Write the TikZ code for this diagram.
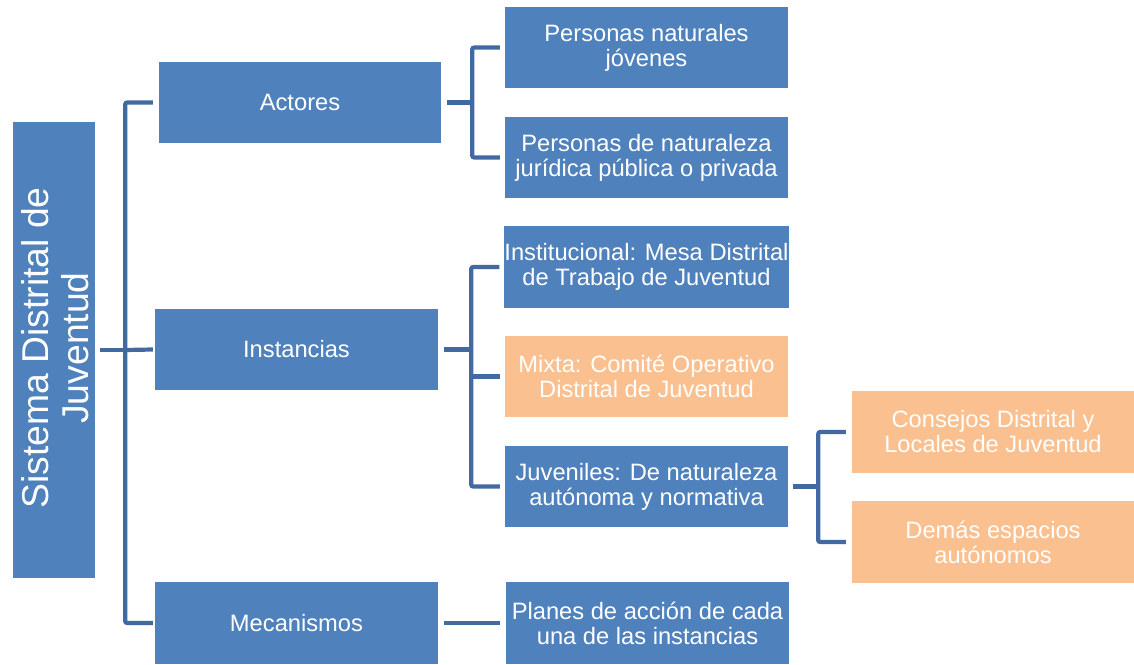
\documentclass[tikz,border=0pt]{standalone}
\usepackage{fontspec}
\setmainfont{Liberation Sans}
\usetikzlibrary{calc}
\definecolor{boxblue}{RGB}{79,129,189}
\definecolor{boxorange}{RGB}{250,192,143}
\definecolor{linkblue}{RGB}{66,106,160}
\tikzset{
  bbox/.style={fill=boxblue, draw=none, text=white, minimum width=283pt, minimum height=81pt, inner sep=0pt, align=center, font=\fontsize{23.7}{25}\selectfont},
  obox/.style={bbox, fill=boxorange},
  conn/.style={draw=linkblue, line width=4.2pt, rounded corners=2pt}
}
\begin{document}
\begin{tikzpicture}[x=1pt,y=-1pt]
\useasboundingbox (0,0) rectangle (1134,664);
% left box
\node[fill=boxblue, minimum width=82pt, minimum height=456pt, inner sep=0pt] (sis) at (54,350) {};
\node[rotate=90, text=white, align=center, font=\fontsize{37.3}{40}\selectfont] (sist) at (55,348) {Sistema Distrital de\\Juventud};
% middle
\node[bbox, minimum width=282pt] (act) at (300,102.5) {Actores};
\node[bbox] (ins) at (296.5,349.5) {Instancias};
\node[bbox, minimum height=82pt] (mec) at (296.5,623) {Mecanismos};
% right
\node[bbox] (pnj) at (646.5,47.5) {Personas naturales\\jóvenes};
\node[bbox] (pnp) at (646.5,157.5) {Personas de naturaleza\\jurídica pública o privada};
\node[bbox, minimum height=82pt] (inst) at (646.5,267) {Institucional: Mesa Distrital\\de Trabajo de Juventud};
\node[obox] (mix) at (646.5,376.5) {Mixta: Comité Operativo\\Distrital de Juventud};
\node[bbox] (juv) at (646.5,486.5) {Juveniles: De naturaleza\\autónoma y normativa};
\node[bbox, minimum height=82pt] (pla) at (647.5,623) {Planes de acción de cada\\una de las instancias};
% far right
\node[obox, minimum width=282pt, minimum height=82pt] (con) at (993,432) {Consejos Distrital y\\Locales de Juventud};
\node[obox, minimum width=282pt, minimum height=82pt] (dem) at (993,542) {Demás espacios\\autónomos};
% connectors: left bracket
\coordinate (b0) at ($(sis.east)+(30,0)$);
\draw[conn] ([xshift=5pt]sis.east) -- (b0);
\draw[conn] ([xshift=-6pt]act.west) -| (b0) |- ([xshift=-2pt]mec.west);
\draw[conn] (b0) -- ([xshift=-2pt]ins.west);
% actores bracket
\coordinate (b1) at ($(act.east)+(31,0)$);
\draw[conn] ([xshift=6pt]act.east) -- (b1);
\draw[conn] ([xshift=-5pt]pnj.west) -| (b1) |- ([xshift=-5pt]pnp.west);
% instancias bracket
\coordinate (b2) at ($(ins.east)+(33,0)$);
\draw[conn] ([xshift=6pt]ins.east) -- (b2);
\draw[conn] ([xshift=-5pt]inst.west) -| (b2) |- ([xshift=-5pt]juv.west);
\draw[conn] ([xshift=-5pt]mix.west) -- (mix.west -| b2);
% juveniles bracket
\coordinate (b3) at ($(juv.east)+(30,0)$);
\draw[conn] ([xshift=5pt]juv.east) -- (b3);
\draw[conn] ([xshift=-6pt]con.west) -| (b3) |- ([xshift=-6pt]dem.west);
% mecanismos
\draw[conn] ([xshift=6pt]mec.east) -- ([xshift=-6pt]pla.west);
\end{tikzpicture}
\end{document}
